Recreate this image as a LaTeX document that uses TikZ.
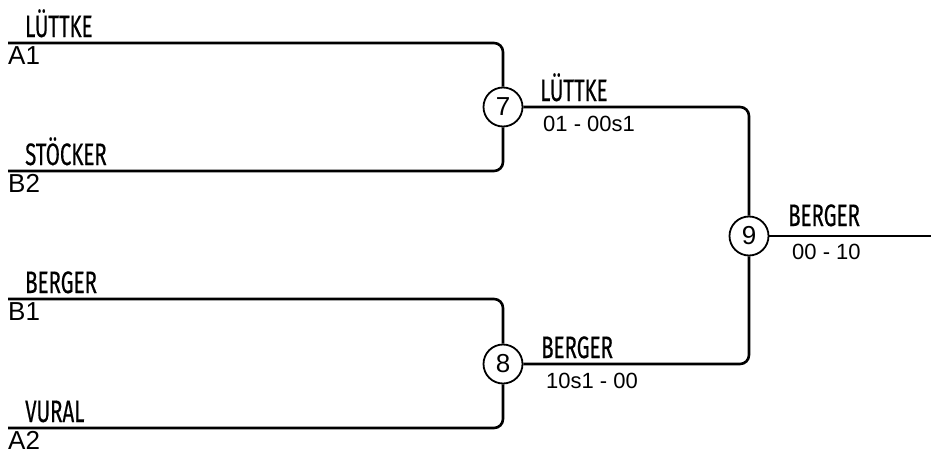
\documentclass[tikz,border=0pt]{standalone}
\usepackage{fontspec}
\setmainfont{Liberation Sans}
\newfontfamily\namefont[FakeStretch=0.66,FakeBold=0.4]{Fira Sans}
\begin{document}
\begin{tikzpicture}[x=1pt,y=-1pt,
  wire/.style={line width=2.6pt, rounded corners=9pt},
  match/.style={circle, draw, line width=1.8pt, minimum size=39pt, inner sep=0pt, font=\fontsize{26}{28}\selectfont},
  pname/.style={anchor=base west, inner sep=0pt, font=\namefont\fontsize{31}{33}\selectfont},
  seed/.style={anchor=north west, inner sep=0pt, font=\fontsize{26}{28}\selectfont},
  score/.style={anchor=base west, inner sep=0pt, font=\fontsize{22}{24}\selectfont}]
\useasboundingbox (0,0) rectangle (931,455);
% match nodes
\node[match] (m7) at (503,107) {7};
\node[match] (m8) at (503,364) {8};
\node[match] (m9) at (749,236) {9};
% entry points
\coordinate (a1) at (8,43);
\coordinate (b2) at (8,171);
\coordinate (b1) at (8,299);
\coordinate (a2) at (8,428);
\coordinate (out) at (931,236);
% wires
\draw[wire] (a1) -| (m7.north);
\draw[wire] (b2) -| (m7.south);
\draw[wire] (b1) -| (m8.north);
\draw[wire] (a2) -| (m8.south);
\draw[wire] (m7.east) -| (m9.north);
\draw[wire] (m8.east) -| (m9.south);
\draw[wire] (m9.east) -- (out);
% first round labels
\node[pname] (na1) at (25,37) {LÜTTKE};
\node[seed] (sa1) at (8,46) {A1};
\node[pname] (nb2) at (25,165) {STÖCKER};
\node[seed] (sb2) at (8,174) {B2};
\node[pname] (nb1) at (25,293) {BERGER};
\node[seed] (sb1) at (8,302) {B1};
\node[pname] (na2) at (25,422) {VURAL};
\node[seed] (sa2) at (8,431) {A2};
% winners
\node[pname] (w7) at (540,101) {LÜTTKE};
\node[score] (s7) at (543,131) {01 - 00s1};
\node[pname] (w8) at (541,358) {BERGER};
\node[score] (s8) at (546,388) {10s1 - 00};
\node[pname] (w9) at (788,226) {BERGER};
\node[score] (s9) at (792,259) {00 - 10};
\end{tikzpicture}
\end{document}
